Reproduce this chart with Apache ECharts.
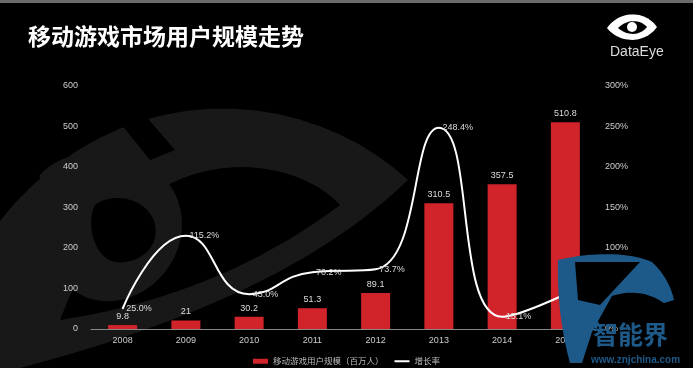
<!DOCTYPE html>
<html>
<head>
<meta charset="utf-8">
<script src="https://cdn.jsdelivr.net/npm/echarts@6/dist/echarts.min.js"></script>
<style>
html,body{margin:0;padding:0;background:#000;}
#chart{width:693px;height:368px;}
</style>
</head>
<body>
<div id="chart"></div>
<script>
var categories = ['2008','2009','2010','2011','2012','2013','2014','2015'];
var users = [9.8, 21, 30.2, 51.3, 89.1, 310.5, 357.5, 510.8];
var growth = [25.0, 115.2, 43.0, 70.2, 73.7, 248.4, 15.1, 42.9];
var leftTicks = [0, 100, 200, 300, 400, 500, 600];
var rightTicks = [0, 50, 100, 150, 200, 250, 300];

// decorative shapes: closed outline made of cubic bezier segments -> polygon points
function bez(start, segs) {
  var pts = [start];
  var p0 = start;
  segs.forEach(function (s) {
    if (s.length === 1) { pts.push(s[0]); p0 = s[0]; return; }
    var c1 = s[0], c2 = s[1], p3 = s[2];
    for (var i = 1; i <= 24; i++) {
      var t = i / 24, u = 1 - t;
      pts.push([
        u*u*u*p0[0] + 3*u*u*t*c1[0] + 3*u*t*t*c2[0] + t*t*t*p3[0],
        u*u*u*p0[1] + 3*u*u*t*c1[1] + 3*u*t*t*c2[1] + t*t*t*p3[1]
      ]);
    }
    p0 = p3;
  });
  return pts;
}
function poly(points, fill, z) {
  return { type: 'polygon', z: z, silent: true, shape: { points: points }, style: { fill: fill } };
}

var chart = echarts.init(document.getElementById('chart'));
var labelFont = 'Liberation Sans, DejaVu Sans, sans-serif';
var bg = '#181818';
var blue = '#1d5a8a';
var option = {
  backgroundColor: '#000',
  animation: false,
  textStyle: { fontFamily: labelFont },
  graphic: [
    { type: 'rect', z: -10, shape: { x: 0, y: 0, width: 693, height: 3 }, style: { fill: '#6b6b6b' } },
    poly(bez([-70, 345], [[[40, 60], [290, 70], [408, 180]], [[330, 255], [200, 330], [-70, 390]]]), bg, -5),
    poly(bez([60, 320], [[[130, 130], [290, 150], [340, 205]], [[280, 250], [190, 300], [60, 320]]]), '#000', -4),
    poly([[100, 98], [130, 98], [175, 150], [150, 160]], '#000', -4),
    poly(bez([40, 175], [[[70, 140], [140, 150], [170, 185]], [[200, 230], [170, 290], [120, 300]], [[70, 310], [30, 260], [40, 175]]]), bg, -3),
    poly(bez([95, 205], [[[115, 190], [150, 200], [155, 225]], [[160, 250], [135, 265], [115, 262]], [[95, 258], [85, 225], [95, 205]]]), '#000', -2),
    { type: 'text', left: 28, top: 25, style: { text: '移动游戏市场用户规模走势', fill: '#fff', font: 'bold 23px "Noto Sans CJK SC", sans-serif' } },
    // DataEye logo
    poly(bez([607, 28], [[[620, 10], [645, 10], [657, 27]], [[645, 44], [620, 44], [607, 28]]]), '#fff', 50),
    poly(bez([618, 28], [[[627, 19], [640, 19], [647, 27]], [[640, 36], [627, 36], [618, 28]]]), '#000', 51),
    { type: 'circle', z: 52, shape: { cx: 632, cy: 27, r: 5 }, style: { fill: '#fff' } },
    { type: 'text', z: 52, left: 610, top: 45, style: { text: 'DataEye', fill: '#ddd', font: '14px "Liberation Sans", sans-serif' } },
    // znjchina watermark
    poly(bez([558, 260], [[[590, 252], [630, 252], [652, 262]], [[666, 275], [672, 290], [674, 300]], [[664, 303]], [[648, 292], [630, 290], [612, 296]], [[592, 332]], [[582, 363]], [[570, 363]], [[561, 330], [557, 295], [558, 260]]]), blue, 100),
    poly([[575, 262], [640, 262], [600, 305], [578, 300]], '#000', 101),
    { type: 'text', z: 102, left: 593, top: 322, style: { text: '智能界', fill: blue, font: 'bold 25px "Noto Sans CJK SC", sans-serif' } },
    { type: 'text', z: 102, left: 591, top: 355, style: { text: 'www.znjchina.com', fill: blue, font: 'bold 10px "Liberation Sans", sans-serif' } }
  ],
  legend: {
    top: 352,
    left: 'center',
    itemWidth: 15,
    itemHeight: 5,
    itemGap: 10,
    textStyle: { color: '#bbb', fontSize: 8.5, fontFamily: '"Noto Sans CJK SC", sans-serif' },
    data: [
      { name: '移动游戏用户规模（百万人）', icon: 'rect' },
      { name: '增长率', itemStyle: { opacity: 0 } }
    ]
  },
  grid: { left: 91, right: 96, top: 86, bottom: 39 },
  xAxis: {
    type: 'category',
    data: categories,
    axisLine: { lineStyle: { color: '#888', width: 1 } },
    axisTick: { show: false },
    axisLabel: { color: '#ccc', fontSize: 9, margin: 7 }
  },
  yAxis: [
    {
      type: 'value', min: leftTicks[0], max: leftTicks[leftTicks.length - 1], interval: 100,
      axisLine: { show: false }, axisTick: { show: false }, splitLine: { show: false },
      axisLabel: { color: '#ccc', fontSize: 9, margin: 13 }
    },
    {
      type: 'value', min: rightTicks[0], max: rightTicks[rightTicks.length - 1], interval: 50,
      axisLine: { show: false }, axisTick: { show: false }, splitLine: { show: false },
      axisLabel: { color: '#ccc', fontSize: 9, margin: 8, formatter: '{value}%' }
    }
  ],
  series: [
    {
      name: '移动游戏用户规模（百万人）',
      type: 'bar',
      data: users,
      barWidth: 29,
      itemStyle: { color: '#d0232a' },
      label: { show: true, position: 'top', color: '#ddd', fontSize: 9, distance: 4 }
    },
    {
      name: '增长率',
      type: 'line',
      yAxisIndex: 1,
      data: growth,
      smooth: 0.5,
      showSymbol: true,
      symbol: 'circle',
      symbolSize: 1,
      lineStyle: { color: '#fff', width: 2 },
      itemStyle: { color: '#fff' },
      label: { show: true, position: 'right', color: '#ddd', fontSize: 9, distance: 3,
        formatter: function (p) { return p.value.toFixed(1) + '%'; } }
    }
  ]
};
chart.setOption(option);
</script>
</body>
</html>
